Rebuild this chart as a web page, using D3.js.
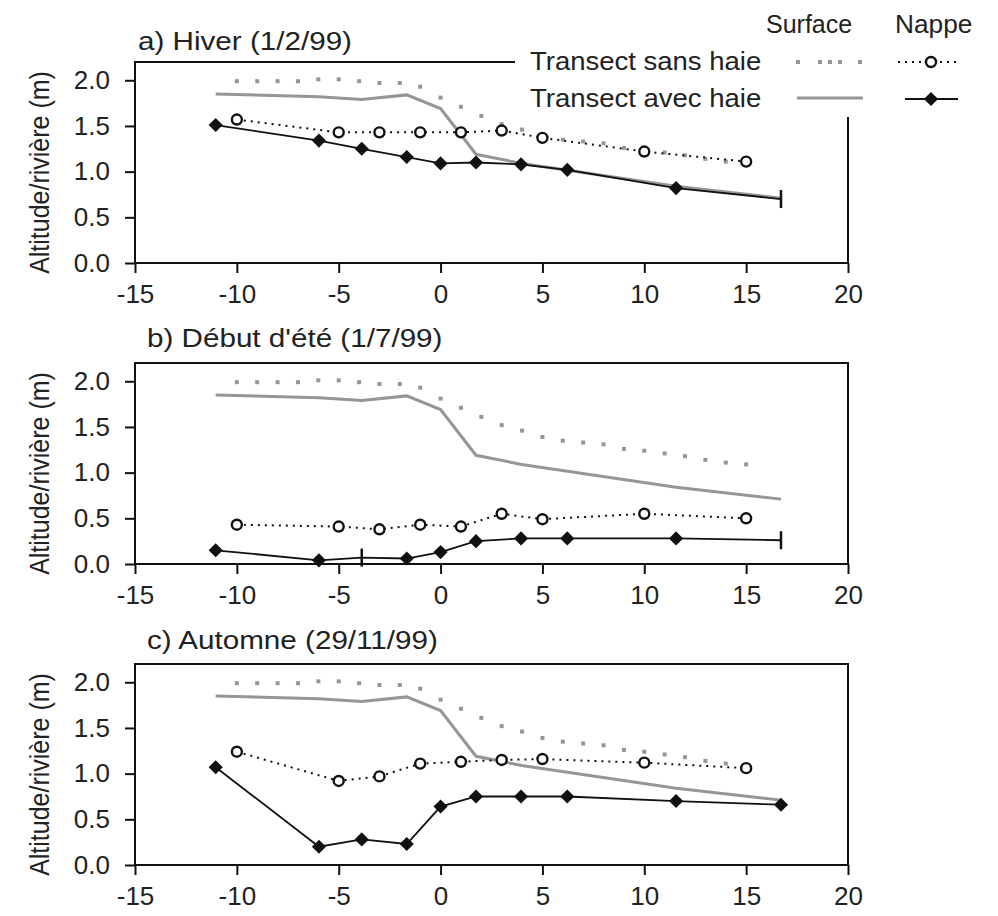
<!DOCTYPE html>
<html>
<head>
<meta charset="utf-8">
<script src="https://cdn.jsdelivr.net/npm/d3@7"></script>
<style>
  body { margin: 0; background: #fff; }
  text { font-family: "Liberation Sans", Arial, sans-serif; fill: #222; }
</style>
</head>
<body>
<svg id="chart" width="998" height="916"></svg>
<script>
// axes
var xTicks = [-15, -10, -5, 0, 5, 10, 15, 20];
var yTicks = [0, 0.5, 1, 1.5, 2];
var titles = ["a) Hiver (1/2/99)", "b) Début d'été (1/7/99)", "c) Automne (29/11/99)"];

// surface (same topography for every date)
var surfSansX = [-10, -9, -8, -7, -6, -5, -4, -3, -2, -1, 0, 1, 2, 3, 4, 5, 6, 7, 8, 9, 10, 11, 12, 13, 14, 15];
var surfSansY = [1.99, 1.99, 1.99, 1.99, 2.01, 2.01, 1.99, 1.97, 1.97, 1.93, 1.81, 1.71, 1.61, 1.52, 1.46, 1.39, 1.35, 1.33, 1.31, 1.26, 1.24, 1.21, 1.18, 1.14, 1.11, 1.09];
var surfAvecX = [-11.04, -5.97, -3.87, -1.66, 0, 1.74, 3.98, 11.56, 16.71];
var surfAvecY = [1.85, 1.82, 1.79, 1.84, 1.69, 1.19, 1.09, 0.84, 0.71];

// nappe, transect sans haie (open circles)
var nappeSansX = [-10, -5, -3, -1, 1, 3, 5, 10, 15];
var nappeSansA = [1.57, 1.43, 1.43, 1.43, 1.43, 1.45, 1.37, 1.22, 1.11];
var nappeSansB = [0.43, 0.41, 0.38, 0.43, 0.41, 0.55, 0.49, 0.55, 0.50];
var nappeSansC = [1.24, 0.92, 0.97, 1.11, 1.13, 1.15, 1.16, 1.12, 1.06];

// nappe, transect avec haie (diamonds; some points shown as a bar)
var nappeAvecX = [-11.04, -5.97, -3.87, -1.66, 0, 1.74, 3.95, 6.22, 11.56, 16.71];
var nappeAvecA = [1.51, 1.34, 1.25, 1.16, 1.09, 1.10, 1.08, 1.02, 0.82, 0.70];
var nappeAvecB = [0.15, 0.04, 0.07, 0.06, 0.13, 0.25, 0.28, 0.28, 0.28, 0.26];
var nappeAvecC = [1.07, 0.20, 0.28, 0.23, 0.64, 0.75, 0.75, 0.75, 0.70, 0.66];
var barsA = [9], barsB = [2, 9], barsC = [];

var panels = [
  {title: titles[0], sans: nappeSansA, avec: nappeAvecA, bars: barsA, top: 62, tx: 138, ty: -12},
  {title: titles[1], sans: nappeSansB, avec: nappeAvecB, bars: barsB, top: 363, tx: 147, ty: -16},
  {title: titles[2], sans: nappeSansC, avec: nappeAvecC, bars: barsC, top: 664, tx: 147, ty: -15}
];

var svg = d3.select("#chart");
var left = 135, right = 848, h = 201;
var grey = "#969696";
var font = "'Liberation Sans', Arial, sans-serif";

var x = d3.scaleLinear().domain([-15, 20]).range([left, right]);
var y = d3.scaleLinear().domain([0, 2.2]).range([h, 0]);

var zip = function(xs, ys){ return xs.map(function(v, i){ return [v, ys[i]]; }); };
var line = d3.line().x(function(d){ return x(d[0]); }).y(function(d){ return y(d[1]); });

// stretched text (the original lettering is a bit wide)
var wideText = function(sel, tx, ty, size, sx, str){
  return sel.append("text").attr("transform", "translate(" + tx + "," + ty + ") scale(" + sx + ",1)")
    .attr("font-size", size).text(str);
};

panels.forEach(function(p, k){
  var g = svg.append("g").attr("transform", "translate(0," + p.top + ")");

  // frame
  g.append("rect").attr("x", left).attr("y", 0).attr("width", right - left).attr("height", h)
    .attr("fill", "none").attr("stroke", "#111").attr("stroke-width", 2);

  var xa = g.append("g").attr("transform", "translate(0," + h + ")")
    .call(d3.axisBottom(x).tickValues(xTicks).tickSize(10).tickPadding(12).tickFormat(function(d){ return String(d); }));
  var ya = g.append("g").attr("transform", "translate(" + left + ",0)")
    .call(d3.axisLeft(y).tickValues(yTicks).tickSize(10).tickPadding(15).tickFormat(d3.format(".1f")));
  [xa, ya].forEach(function(a){
    a.select(".domain").remove();
    a.selectAll("line").attr("stroke", "#111").attr("stroke-width", 2);
    a.selectAll("text").attr("font-size", 26).attr("fill", "#222").style("font-family", font);
  });

  wideText(g, p.tx, p.ty, 26, 1.14, p.title);
  g.append("text").attr("transform", "translate(49," + (h / 2 + 10) + ") rotate(-90) scale(1,1.1)")
    .attr("text-anchor", "middle").attr("font-size", 25).text("Altitude/rivière (m)");

  // surface avec haie
  g.append("path").attr("d", line(zip(surfAvecX, surfAvecY)))
    .attr("fill", "none").attr("stroke", grey).attr("stroke-width", 3);

  // surface sans haie
  g.selectAll(".ss").data(zip(surfSansX, surfSansY)).enter().append("rect")
    .attr("x", function(d){ return x(d[0]) - 2; }).attr("y", function(d){ return y(d[1]) - 2; })
    .attr("width", 4).attr("height", 4).attr("fill", grey);

  // nappe sans haie
  var ns = zip(nappeSansX, p.sans);
  g.append("path").attr("d", line(ns)).attr("fill", "none")
    .attr("stroke", "#111").attr("stroke-width", 2).attr("stroke-dasharray", "2,5");
  g.selectAll(".ns").data(ns).enter().append("circle")
    .attr("cx", function(d){ return x(d[0]); }).attr("cy", function(d){ return y(d[1]); })
    .attr("r", 5).attr("fill", "#fff").attr("stroke", "#111").attr("stroke-width", 2.4);

  // nappe avec haie
  var na = zip(nappeAvecX, p.avec);
  g.append("path").attr("d", line(na)).attr("fill", "none")
    .attr("stroke", "#111").attr("stroke-width", 1.8);
  na.forEach(function(d, i){
    if (p.bars.indexOf(i) >= 0) {
      g.append("line").attr("x1", x(d[0])).attr("x2", x(d[0]))
        .attr("y1", y(d[1]) - 9).attr("y2", y(d[1]) + 9)
        .attr("stroke", "#111").attr("stroke-width", 2.5);
    } else {
      g.append("path").attr("d", d3.symbol(d3.symbolSquare, 100)())
        .attr("transform", "translate(" + x(d[0]) + "," + y(d[1]) + ") rotate(45)")
        .attr("fill", "#111");
    }
  });
});

// legend
var lg = svg.append("g");
lg.append("rect").attr("x", 515).attr("y", 0).attr("width", 483).attr("height", 117).attr("fill", "#fff");
wideText(lg, 766, 33, 25, 1.0, "Surface");
wideText(lg, 895, 33, 25, 1.05, "Nappe");
wideText(lg, 530, 70, 25, 1.1, "Transect sans haie");
wideText(lg, 530, 107, 25, 1.1, "Transect avec haie");
[798, 820, 830, 840, 860].forEach(function(px){
  lg.append("rect").attr("x", px - 2).attr("y", 60).attr("width", 4).attr("height", 4).attr("fill", grey);
});
lg.append("line").attr("x1", 898).attr("x2", 958).attr("y1", 62).attr("y2", 62)
  .attr("stroke", "#111").attr("stroke-width", 2).attr("stroke-dasharray", "2,5");
lg.append("circle").attr("cx", 931).attr("cy", 62).attr("r", 5)
  .attr("fill", "#fff").attr("stroke", "#111").attr("stroke-width", 2.4);
lg.append("line").attr("x1", 797).attr("x2", 863).attr("y1", 98).attr("y2", 98)
  .attr("stroke", grey).attr("stroke-width", 3);
lg.append("line").attr("x1", 905).attr("x2", 958).attr("y1", 99).attr("y2", 99)
  .attr("stroke", "#111").attr("stroke-width", 1.8);
lg.append("path").attr("d", d3.symbol(d3.symbolSquare, 100)())
  .attr("transform", "translate(931,99) rotate(45)").attr("fill", "#111");
</script>
</body>
</html>
